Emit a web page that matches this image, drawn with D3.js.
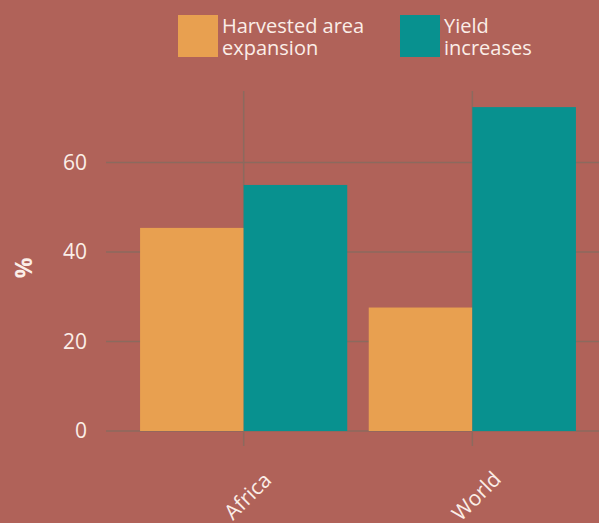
<!DOCTYPE html>
<html>
<head>
<meta charset="utf-8">
<script src="https://cdn.jsdelivr.net/npm/d3@7"></script>
<style>
  body { margin: 0; background: #b06259; }
  svg { display: block; font-family: "Open Sans", "Noto Sans", sans-serif; }
</style>
</head>
<body>
<div id="chart"></div>
<script>
// --- データ ---
const regions = ["Africa", "World"];
const seriesNames = ["Harvested area expansion", "Yield increases"];
const areaExpansion = [45.4, 27.6];
const yieldIncreases = [55.0, 72.4];
const yTicks = [0, 20, 40, 60];

const W = 599, H = 523;
const colors = ["#e8a050", "#08918f"];
const gridColor = "#8c6a5e";
const textColor = "#fbeee8";

const svg = d3.select("#chart").append("svg")
  .attr("width", W).attr("height", H);

svg.append("rect").attr("width", W).attr("height", H).attr("fill", "#b06259");

// スケール
const x = d3.scaleBand().domain(regions).range([106, 610]).paddingInner(0.094).paddingOuter(0.149);
const xs = d3.scaleBand().domain(seriesNames).range([0, x.bandwidth()]);
const y = d3.scaleLinear().domain([0, 76]).range([431, 91]);

// グリッド
svg.append("g").selectAll("line.h")
  .data(yTicks).enter().append("line")
  .attr("x1", 106).attr("x2", W)
  .attr("y1", d => y(d)).attr("y2", d => y(d))
  .attr("stroke", gridColor).attr("stroke-width", 1.5);

svg.append("g").selectAll("line.v")
  .data(regions).enter().append("line")
  .attr("x1", d => x(d) + x.bandwidth() / 2).attr("x2", d => x(d) + x.bandwidth() / 2)
  .attr("y1", y.range()[1]).attr("y2", 446)
  .attr("stroke", gridColor).attr("stroke-width", 1.5);

// バー
const rows = regions.map((r, i) => ({ region: r, values: [areaExpansion[i], yieldIncreases[i]] }));
const grp = svg.append("g").selectAll("g")
  .data(rows).enter().append("g")
  .attr("transform", d => `translate(${x(d.region)},0)`);

grp.selectAll("rect")
  .data(d => d.values.map((v, j) => ({ key: seriesNames[j], v, j })))
  .enter().append("rect")
  .attr("x", d => xs(d.key))
  .attr("width", xs.bandwidth())
  .attr("y", d => y(d.v))
  .attr("height", d => y(0) - y(d.v))
  .attr("fill", d => colors[d.j]);

// Y軸ラベル
svg.append("g").selectAll("text")
  .data(yTicks).enter().append("text")
  .attr("x", 87).attr("y", d => y(d))
  .attr("dy", "0.35em")
  .attr("text-anchor", "end")
  .attr("fill", textColor)
  .style("font-size", "21px")
  .text(d => d);

svg.append("text")
  .attr("transform", "translate(24,268) rotate(-90)")
  .attr("text-anchor", "middle")
  .attr("dy", "0.35em")
  .attr("fill", textColor)
  .style("font-size", "23px").style("font-weight", "bold")
  .text("%");

// X軸ラベル
svg.append("g").selectAll("text")
  .data(regions).enter().append("text")
  .attr("transform", d => `translate(${x(d) + x.bandwidth() / 2 + 4},496) rotate(-45)`)
  .attr("text-anchor", "middle")
  .attr("dy", "0.35em")
  .attr("fill", textColor)
  .style("font-size", "21px")
  .text(d => d);

// 凡例
const legendLines = [["Harvested area", "expansion"], ["Yield", "increases"]];
const legendX = [178, 400];
const leg = svg.append("g").selectAll("g")
  .data(seriesNames).enter().append("g")
  .attr("transform", (d, i) => `translate(${legendX[i]},15)`);

leg.append("rect")
  .attr("width", 40).attr("height", 42)
  .attr("fill", (d, i) => colors[i]);

leg.each(function(d, i) {
  d3.select(this).selectAll("text")
    .data(legendLines[i]).enter().append("text")
    .attr("x", 44)
    .attr("y", (t, k) => 18 + k * 22)
    .attr("fill", textColor)
    .style("font-size", "20px")
    .text(t => t);
});
</script>
</body>
</html>
